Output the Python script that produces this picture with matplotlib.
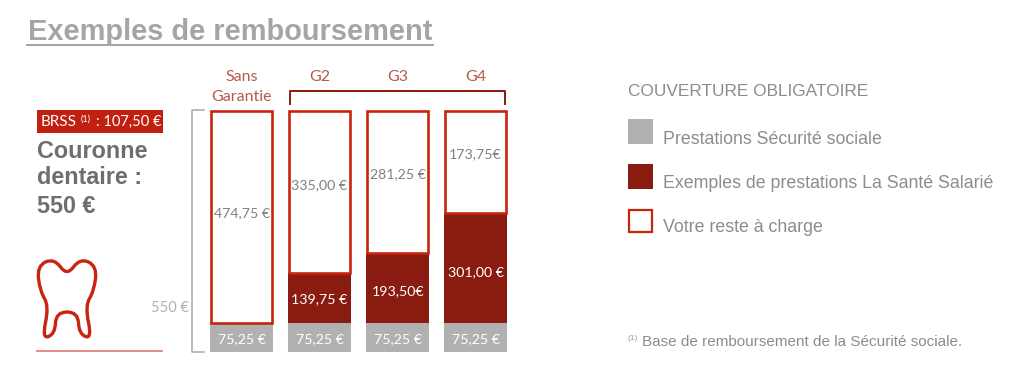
import matplotlib
matplotlib.use("Agg")
import matplotlib.pyplot as plt
from matplotlib.patches import PathPatch, Rectangle
from matplotlib.path import Path

# values printed on the chart
categories = ["G2", "G3", "G4"]
secu_labels = ["75,25 €", "75,25 €", "75,25 €", "75,25 €"]
mutuelle_labels = ["", "139,75 €", "193,50€", "301,00 €"]
reste_labels = ["474,75 €", "335,00 €", "281,25 €", "173,75€"]

# segment heights as drawn in the picture, on its 0-550 bracket
# (the original is not to scale with its own labels)
secu_heights = [66, 66, 66, 66]
mutuelle_heights = [0, 114, 160, 251]
reste_heights = [484, 370, 324, 233]

GREY = "#b1b1b1"
DARK = "#8a1b10"
RED = "#c8240f"
SOFT_RED = "#b8594f"
TEXT = "#808080"
BODY = "Lato"
HELV = "Liberation Sans"

fig = plt.figure(figsize=(10.24, 3.75), dpi=100, facecolor="white")

# overlay in pixel coordinates for everything around the bars
over = fig.add_axes([0, 0, 1, 1], zorder=3)
over.set_xlim(0, 1024)
over.set_ylim(375, 0)
over.axis("off")

# bars
ax = fig.add_axes([203 / 1024, (375 - 352) / 375, 311 / 1024, 241 / 375], zorder=1)
ax.set_xlim(-0.5, 3.5)
ax.set_ylim(0, 550)
ax.axis("off")
xpos = range(4)
ax.bar(xpos, secu_heights, width=0.81, color=GREY)
ax.bar(xpos, mutuelle_heights, width=0.81, bottom=secu_heights, color=DARK)
tops = [s + m for s, m in zip(secu_heights, mutuelle_heights)]
ax.bar(xpos, reste_heights, width=0.785, bottom=tops, facecolor="white",
       edgecolor=RED, linewidth=1.9, clip_on=False)

centers = [242.5, 319.5, 398, 475.5]
secu_y = [339, 339, 339, 339]
mutuelle_y = [0, 299, 291, 272]
reste_y = [213, 185, 174, 154]
for i, cx in enumerate(centers):
    over.text(cx, secu_y[i], secu_labels[i], color="white", fontsize=10.2,
              family=BODY, ha="center", va="center")
    over.text(cx, reste_y[i], reste_labels[i], color=TEXT, fontsize=10.2,
              family=BODY, ha="center", va="center")
    if mutuelle_labels[i]:
        over.text(cx, mutuelle_y[i], mutuelle_labels[i], color="white", fontsize=10.2,
                  family=BODY, ha="center", va="center")

# title
over.text(28, 39.5, "Exemples de remboursement", color="#a5a5a5", fontsize=20.9,
          family=HELV, weight="bold", ha="left", va="baseline")
over.plot([27, 433], [44.5, 44.5], color="#9a9a9a", lw=1.3)

# column headers
over.text(242, 77, "Sans", color=SOFT_RED, fontsize=11.5, family=BODY, ha="center", va="center")
over.text(242, 97, "Garantie", color=SOFT_RED, fontsize=11.5, family=BODY, ha="center", va="center")
for name, cx in zip(categories, centers[1:]):
    over.text(cx, 77, name, color=SOFT_RED, fontsize=11.5, family=BODY, ha="center", va="center")
over.plot([289.5, 289.5, 504.5, 504.5], [104, 90.5, 90.5, 104], color=DARK, lw=1.4)

# left side block
over.add_patch(Rectangle((37, 110), 126, 23, facecolor="#c0200f", edgecolor="none"))
over.text(41, 122, "BRSS", color="white", fontsize=11, family=BODY, ha="left", va="center")
over.text(81, 119, "(1)", color="white", fontsize=6.5, family=BODY, ha="left", va="center")
over.text(96, 122, ": 107,50 €", color="white", fontsize=10.5, family=BODY, ha="left", va="center")
for line, y in zip(["Couronne", "dentaire :", "550 €"], [158, 184, 213]):
    over.text(37, y, line, color="#6e6e6e", fontsize=16.8, family=HELV, weight="bold",
              ha="left", va="baseline")

# tooth, smooth closed outline through control points
pts = [(67, 276), (54, 258), (37, 266), (40, 291), (49, 306), (42, 339), (55, 334), (56, 312),
       (78, 312), (79, 334), (92, 339), (85, 306), (94, 291), (97, 266), (80, 258)]
mid = lambda a, b: ((a[0] + b[0]) / 2, (a[1] + b[1]) / 2)
verts = [mid(pts[-1], pts[0])]
codes = [Path.MOVETO]
for i, p in enumerate(pts):
    verts += [p, mid(p, pts[(i + 1) % len(pts)])]
    codes += [Path.CURVE3, Path.CURVE3]
over.add_patch(PathPatch(Path(verts, codes), facecolor="none", edgecolor=RED, lw=2.4))
over.plot([37, 162], [351, 351], color="#e08478", lw=1.3)

# 550 bracket
over.plot([204, 192, 192, 204], [110, 110, 351.5, 351.5], color="#a8a8a8", lw=1.1)
over.text(189, 308, "550 €", color="#b0b0b0", fontsize=10.5, family=BODY, ha="right", va="center")

# legend
over.text(628, 91, "COUVERTURE OBLIGATOIRE", color="#8c8c8c", fontsize=12.4, family=HELV,
          ha="left", va="center")
over.add_patch(Rectangle((628, 119), 25, 25, facecolor=GREY, edgecolor="none"))
over.add_patch(Rectangle((628, 164), 25, 25, facecolor=DARK, edgecolor="none"))
over.add_patch(Rectangle((629, 210), 23, 22, facecolor="white", edgecolor=RED, lw=1.6))
legend_names = ["Prestations Sécurité sociale", "Exemples de prestations La Santé Salarié",
                "Votre reste à charge"]
for name, y in zip(legend_names, [139, 184, 227]):
    over.text(663, y, name, color="#8c8c8c", fontsize=12.75, family=HELV, ha="left", va="center")

# footnote
over.text(628, 338, "(1)", color="#9a9a9a", fontsize=6, family=HELV, ha="left", va="center")
over.text(642, 342, "Base de remboursement de la Sécurité sociale.", color="#8c8c8c",
          fontsize=11, family=HELV, ha="left", va="center")

fig.savefig("out.png", dpi=100)
